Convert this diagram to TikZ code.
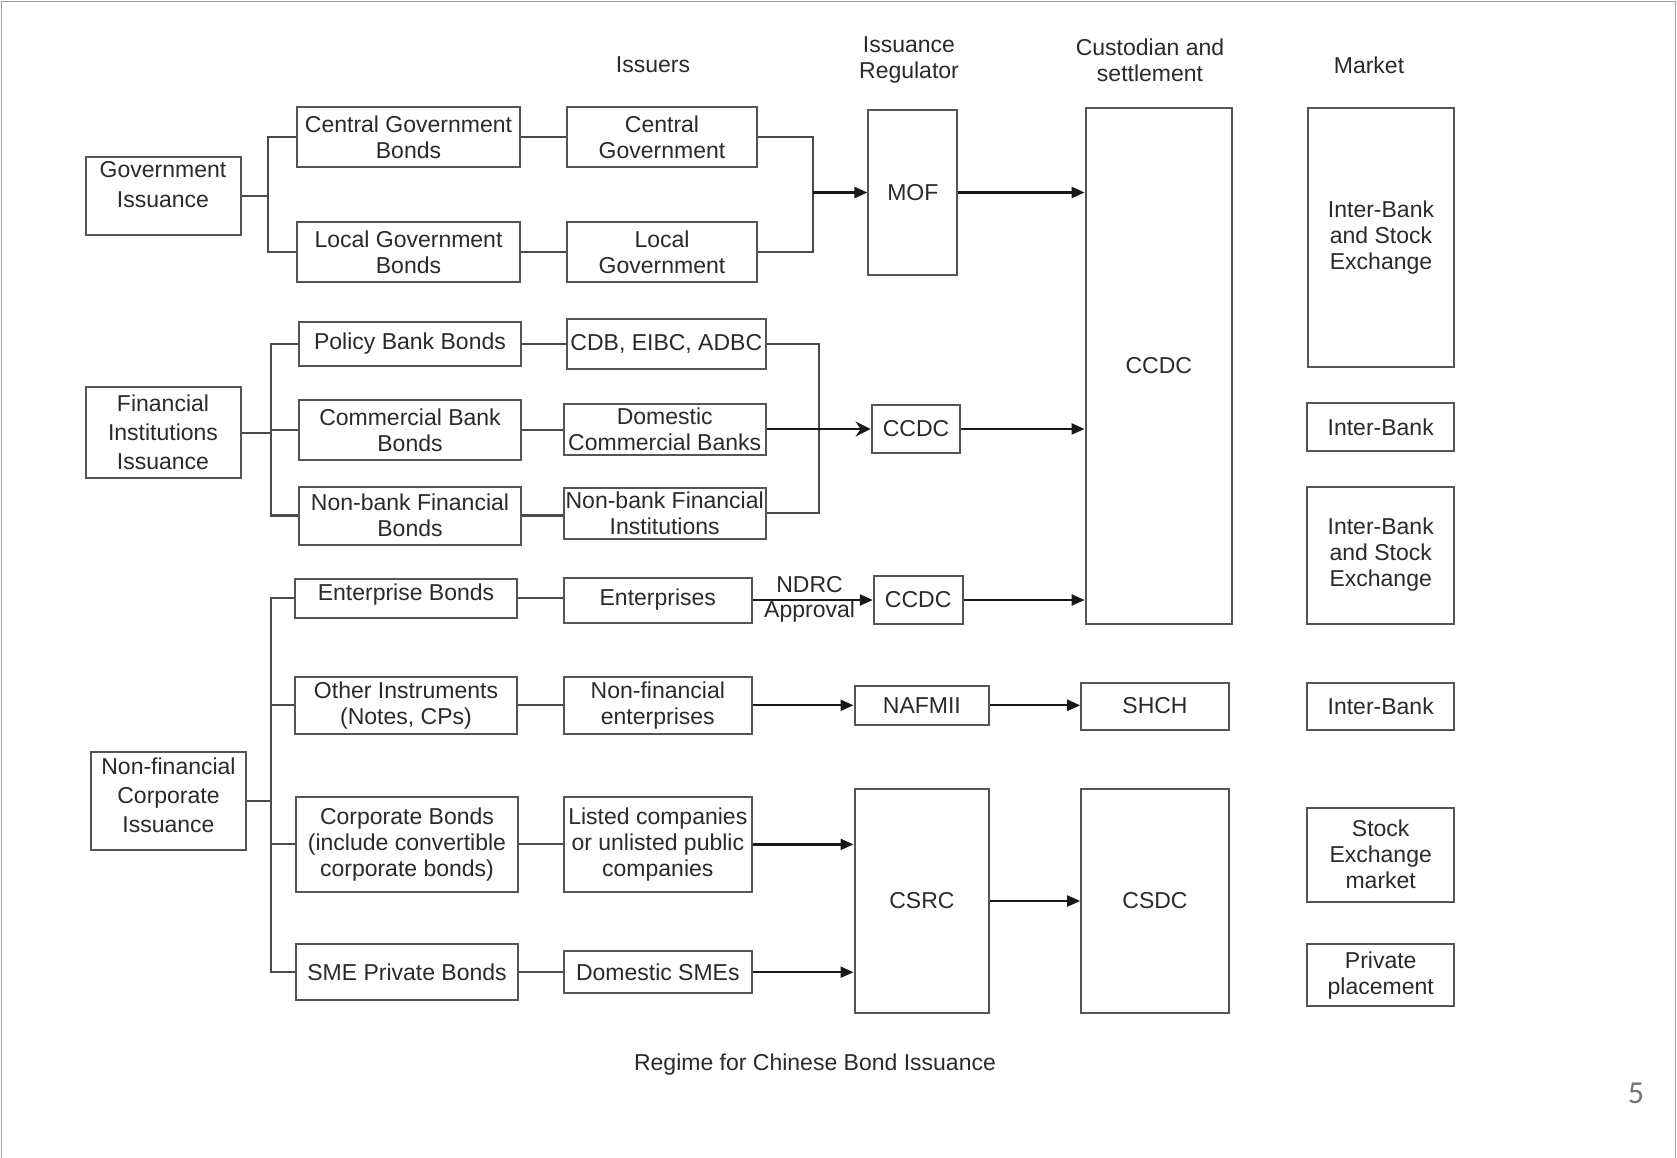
\documentclass[tikz,border=0pt]{standalone}
\usepackage{fontspec}
\setmainfont{Liberation Sans}
\newfontfamily\pagenumfont{Carlito}
\usetikzlibrary{arrows.meta}
\definecolor{boxc}{HTML}{555555}
\definecolor{linec}{HTML}{4A4A4A}
\definecolor{txtc}{HTML}{2A2A2A}
\definecolor{framec}{HTML}{A0A0A0}
\newcommand\diafs{\fontsize{23}{26}\selectfont}
\newcommand\uptext[2]{\raisebox{#1}[\height][\depth]{\begin{tabular}{@{}c@{}}#2\end{tabular}}}
\begin{document}
\begin{tikzpicture}[x=1pt,y=-1pt,
  box/.style={draw=boxc, line width=2pt, align=center, inner sep=0pt, text=txtc, font=\diafs},
  conn/.style={draw=linec, line width=2.1pt},
  arr/.style={draw=black!90, line width=2.3pt, -{Triangle[length=13pt,width=11pt]}},
  sarr/.style={draw=black!90, line width=2.3pt, -{Stealth[length=15pt,width=15pt,inset=5pt]}},
  lab/.style={align=center, text=txtc, font=\diafs, inner sep=0pt}]
\useasboundingbox (0,0) rectangle (1677,1158);
\fill[white] (0,0) rectangle (1677,1158);
\draw[framec, line width=1.5pt] (1.5,1158) -- (1.5,1.5) -- (1675.5,1.5) -- (1675.5,1158);

% headers
\node[lab] (hiss) at (653,65) {Issuers};
\node[lab] (hreg) at (909,60) {Issuance\\Regulator};
\node[lab] (hcus) at (1150,60) {Custodian and\\settlement};
\node[lab] (hmkt) at (1369,65) {Market};

% group 1
\node[box,minimum width=155pt,minimum height=78pt] (gov) at (163,196) {\uptext{9pt}{Government\\[4pt]Issuance}};
\node[box,minimum width=222.5pt,minimum height=60pt] (cgb) at (408.5,137) {Central Government\\Bonds};
\node[box,minimum width=222.5pt,minimum height=60pt] (lgb) at (408.5,252.4) {Local Government\\Bonds};
\node[box,minimum width=190.4pt,minimum height=60pt] (cg) at (662,137) {Central\\Government};
\node[box,minimum width=190.4pt,minimum height=60pt] (lg) at (662,252.4) {Local\\Government};
\node[box,minimum width=88.8pt,minimum height=164.7pt] (mof) at (912.8,192.5) {MOF};
\node[box,minimum width=146.5pt,minimum height=515.5pt] (ccdc) at (1158.8,365.8) {CCDC};
\node[box,minimum width=146.5pt,minimum height=258.8pt] (mk1) at (1381,237.4) {Inter-Bank\\and Stock\\Exchange};

\coordinate (bus1) at (268.4,196);
\coordinate (rb1) at (812.8,192.5);
\draw[conn] (gov.east) -- (bus1);
\draw[conn] (cgb.west) -| (bus1 |- lgb.west) -- (lgb.west);
\draw[conn] (cgb.east) -- (cg.west);
\draw[conn] (lgb.east) -- (lg.west);
\draw[conn] (cg.east) -| (rb1 |- lg.east) -- (lg.east);
\draw[arr] (rb1) -- (mof.west);
\draw[arr] (mof.east) -- (mof.east -| ccdc.west);

% group 2
\node[box,minimum width=155pt,minimum height=91pt] (fin) at (163,432.6) {Financial\\[3pt]Institutions\\[3pt]Issuance};
\node[box,minimum width=221.3pt,minimum height=43.8pt] (pbb) at (410,344) {Policy Bank Bonds};
\node[box,minimum width=221.3pt,minimum height=60pt] (cbb) at (410,430) {Commercial Bank\\Bonds};
\node[box,minimum width=221.3pt,minimum height=58pt] (nbb) at (410,515.5) {Non-bank Financial\\Bonds};
\node[box,minimum width=199pt,minimum height=50pt] (cdb) at (666.3,344) {CDB, EIBC, ADBC};
\node[box,minimum width=202pt,minimum height=51pt] (dcb) at (664.7,429) {Domestic\\Commercial Banks};
\node[box,minimum width=202pt,minimum height=51pt] (nbfi) at (664.7,513) {Non-bank Financial\\Institutions};
\node[box,minimum width=88.8pt,minimum height=48pt] (ccdc2) at (916,429) {CCDC};
\node[box,minimum width=147.5pt,minimum height=48pt] (mk2) at (1380.7,427.3) {Inter-Bank};

\coordinate (bus2) at (270.6,432.6);
\coordinate (rb2) at (819.2,429);
\draw[conn] (fin.east) -- (bus2);
\draw[conn] (pbb.west) -| (bus2 |- nbb.west) -- (nbb.west);
\draw[conn] (cbb.west) -- (cbb.west -| bus2);
\draw[conn] (pbb.east) -- (pbb.east -| cdb.west);
\draw[conn] (cbb.east) -- (cbb.east -| dcb.west);
\draw[conn] (nbb.east) -- (nbb.east -| nbfi.west);
\draw[conn] (cdb.east) -| (rb2 |- nbfi.east) -- (nbfi.east);
\draw[sarr] (dcb.east) -- (ccdc2.west);
\draw[arr] (ccdc2.east) -- (ccdc2.east -| ccdc.west);

% group 3
\node[box,minimum width=155pt,minimum height=98.4pt] (nfc) at (168.5,801) {\uptext{3pt}{Non-financial\\[3pt]Corporate\\[3pt]Issuance}};
\node[box,minimum width=221.4pt,minimum height=39.6pt] (eb) at (406,598.4) {\uptext{3pt}{Enterprise Bonds}};
\node[box,minimum width=221.4pt,minimum height=56.7pt] (oi) at (406,705.3) {Other Instruments\\(Notes, CPs)};
\node[box,minimum width=221.4pt,minimum height=95.2pt] (cb) at (407,844.4) {Corporate Bonds\\(include convertible\\corporate bonds)};
\node[box,minimum width=221.4pt,minimum height=55.6pt] (sme) at (407,972.2) {SME Private Bonds};
\node[box,minimum width=188.3pt,minimum height=45pt] (ent) at (657.8,600) {Enterprises};
\node[box,minimum width=188.3pt,minimum height=56.7pt] (nfe) at (657.8,705.3) {Non-financial\\enterprises};
\node[box,minimum width=188.3pt,minimum height=95.2pt] (lc) at (657.8,844.4) {Listed companies\\or unlisted public\\companies};
\node[box,minimum width=188.3pt,minimum height=41.7pt] (dsme) at (657.8,972.2) {Domestic SMEs};
\node[box,minimum width=88.8pt,minimum height=48pt] (ccdc3) at (918.2,600) {CCDC};
\node[box,minimum width=147.5pt,minimum height=137pt] (mk3) at (1380.7,555) {Inter-Bank\\and Stock\\Exchange};
\node[box,minimum width=134.8pt,minimum height=38.5pt] (nafmii) at (921.9,705.3) {NAFMII};
\node[box,minimum width=147.6pt,minimum height=47pt] (shch) at (1155,706) {SHCH};
\node[box,minimum width=147.5pt,minimum height=47pt] (mk4) at (1380.7,706) {Inter-Bank};
\node[box,minimum width=134.8pt,minimum height=223.5pt] (csrc) at (921.9,901) {CSRC};
\node[box,minimum width=147.6pt,minimum height=223.5pt] (csdc) at (1155,901) {CSDC};
\node[box,minimum width=147.5pt,minimum height=94pt] (mk5) at (1380.7,854.5) {Stock\\Exchange\\market};
\node[box,minimum width=147.5pt,minimum height=62pt] (mk6) at (1380.7,975.4) {Private\\placement};

\coordinate (bus3) at (270.6,801);
\draw[conn] (nfc.east) -- (bus3);
\draw[conn] (eb.west) -| (bus3 |- sme.west) -- (sme.west);
\draw[conn] (oi.west) -- (oi.west -| bus3);
\draw[conn] (cb.west) -- (cb.west -| bus3);
\draw[conn] (eb.east) -- (eb.east -| ent.west);
\draw[conn] (oi.east) -- (nfe.west);
\draw[conn] (cb.east) -- (lc.west);
\draw[conn] (sme.east) -- (dsme.west);
\draw[arr] (ent.east) -- (ccdc3.west);
\node[lab] (ndrc) at (809.6,585) {NDRC};
\node[lab] (appr) at (809.6,612) {Approval};
\draw[arr] (ccdc3.east) -- (ccdc3.east -| ccdc.west);
\draw[arr] (nfe.east) -- (nafmii.west);
\draw[arr] (nafmii.east) -- (nafmii.east -| shch.west);
\draw[arr] (lc.east) -- (lc.east -| csrc.west);
\draw[arr] (dsme.east) -- (dsme.east -| csrc.west);
\draw[arr] (csrc.east) -- (csrc.east -| csdc.west);

% caption and page number
\node[lab] (cap) at (815,1065) {Regime for Chinese Bond Issuance};
\node[text=black!55, font=\pagenumfont\fontsize{32}{36}\selectfont, inner sep=0pt] (pg) at (1636,1093) {5};
\end{tikzpicture}
\end{document}
